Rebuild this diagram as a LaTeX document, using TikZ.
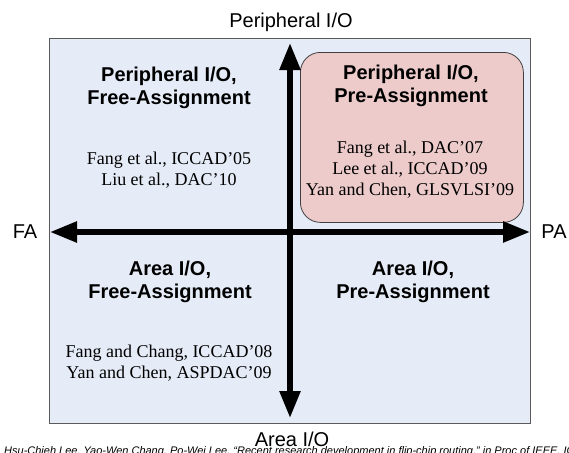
\documentclass[tikz,border=0pt]{standalone}
\usepackage{fontspec}
\setmainfont{Liberation Serif}
\setsansfont{Liberation Sans}
\usetikzlibrary{arrows.meta, positioning}
\definecolor{quadblue}{HTML}{E6ECF7}
\definecolor{prepink}{HTML}{EDCBCB}
\definecolor{framegray}{HTML}{5A5A5A}

\begin{document}
\begin{tikzpicture}[x=1pt, y=-1pt,
    axislabel/.style={font=\fontsize{20}{23}\selectfont\sffamily},
    quadtitle/.style={align=center, font=\fontsize{20}{23}\selectfont\sffamily\bfseries},
    cites/.style={align=center, font=\fontsize{18}{21}\selectfont\rmfamily},
    axisarr/.style={{Triangle[length=27pt,width=20pt]}-{Triangle[length=27pt,width=20pt]},
                    line width=5.5pt},
  ]
  \useasboundingbox (0,0) rectangle (569,452);
  \clip (0,0) rectangle (569,452);
  % field and highlighted quadrant
  \node[draw=framegray, fill=quadblue, line width=0.8pt, inner sep=0pt,
        minimum width=481pt, minimum height=385pt, anchor=north west]
        (field) at (49,38) {};
  \node[draw=black!75, fill=prepink, line width=0.8pt, rounded corners=20pt,
        inner sep=0pt, minimum width=223pt, minimum height=170pt, anchor=north west]
        (prepa) at (300,52) {};

  % axis labels
  \node[axislabel] (periph) at (291,22) {Peripheral I/O};
  \node[axislabel] (area)   at (292,439) {Area I/O};
  \node[axislabel] (fa)     at (25,232) {FA};
  \node[axislabel] (pa)     at (554,232) {PA};

  % axes
  \coordinate (faTip) at (50,232);
  \coordinate (paTip) at (530,232);
  \coordinate (topTip) at (290,43);
  \coordinate (botTip) at (290,418);
  \draw[axisarr] (faTip) -- (paTip);
  \draw[axisarr] (botTip) -- (topTip);

  % quadrants
  \node[quadtitle] (pfTitle) at (169,88) {Peripheral I/O,\\Free-Assignment};
  \node[cites]     (pfCite)  at (169,170) {Fang et al., ICCAD’05\\Liu et al., DAC’10};
  \node[quadtitle] (ppTitle) at (411,86) {Peripheral I/O,\\Pre-Assignment};
  \node[cites]     (ppCite)  at (410,170) {Fang et al., DAC’07\\Lee et al., ICCAD’09\\Yan and Chen, GLSVLSI’09};
  \node[quadtitle] (afTitle) at (170,282) {Area I/O,\\Free-Assignment};
  \node[cites]     (afCite)  at (169,363) {Fang and Chang, ICCAD’08\\Yan and Chen, ASPDAC’09};
  \node[quadtitle] (apTitle) at (413,282) {Area I/O,\\Pre-Assignment};

  % source line
  \node[anchor=base west, inner sep=0pt, font=\fontsize{11}{13}\selectfont\sffamily\itshape]
        (source) at (4,454) {Hsu-Chieh Lee, Yao-Wen Chang, Po-Wei Lee, “Recent research development in flip-chip routing,” in Proc of IEEE, ICCAD’10};
\end{tikzpicture}
\end{document}
